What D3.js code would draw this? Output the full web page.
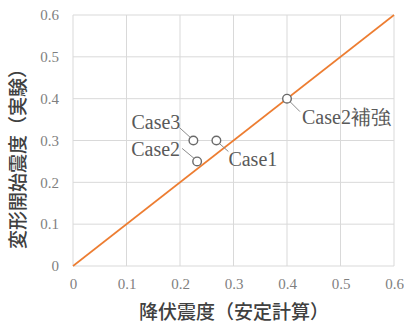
<!DOCTYPE html>
<html><head><meta charset="utf-8">
<script src="https://cdn.jsdelivr.net/npm/d3@7/dist/d3.min.js"></script>
<style>
body{margin:0;background:#fff}
svg text.serif{font-family:"Liberation Serif" !important}
svg text.gothic{font-family:"Noto Sans CJK JP" !important}
</style>
</head><body>
<svg id="c" width="404" height="329"></svg>
<script>
const xTicks = [0, 0.1, 0.2, 0.3, 0.4, 0.5, 0.6];
const yTicks = [0, 0.1, 0.2, 0.3, 0.4, 0.5, 0.6];
const caseNames = ["Case1", "Case2", "Case3", "Case2補強"];
const yieldSeismic = [0.268, 0.232, 0.225, 0.40];
const deformSeismic = [0.30, 0.25, 0.30, 0.40];
const refLine = [0, 0.6];
const xTitle = "降伏震度（安定計算）";
const yTitle = "変形開始震度（実験）";

const svg = d3.select("#c");
const x = d3.scaleLinear().domain([0, 0.6]).range([73, 394]);
const y = d3.scaleLinear().domain([0, 0.6]).range([266, 15]);

// grid
svg.append("g").selectAll("line.v").data(xTicks).join("line")
  .attr("x1", d => x(d)).attr("x2", d => x(d)).attr("y1", y(0)).attr("y2", y(0.6))
  .attr("stroke", "#d9d9d9").attr("stroke-width", 1);
svg.append("g").selectAll("line.h").data(yTicks).join("line")
  .attr("x1", x(0)).attr("x2", x(0.6)).attr("y1", d => y(d)).attr("y2", d => y(d))
  .attr("stroke", "#d9d9d9").attr("stroke-width", 1);

// axes labels
const xa = svg.append("g").attr("transform", `translate(0,${y(0)})`)
  .call(d3.axisBottom(x).tickValues(xTicks).tickSize(0).tickPadding(12).tickFormat(d => d3.format("")(d)));
xa.select(".domain").remove();
xa.selectAll("text").attr("class", "serif").attr("font-size", 15).attr("fill", "#7f7f7f");
const ya = svg.append("g").attr("transform", `translate(${x(0)},0)`)
  .call(d3.axisLeft(y).tickValues(yTicks).tickSize(0).tickPadding(14).tickFormat(d => d3.format("")(d)));
ya.select(".domain").remove();
ya.selectAll("text").attr("class", "serif").attr("font-size", 15).attr("fill", "#7f7f7f");

// reference line
svg.append("line")
  .attr("x1", x(refLine[0])).attr("y1", y(refLine[0]))
  .attr("x2", x(refLine[1])).attr("y2", y(refLine[1]))
  .attr("stroke", "#ED7D31").attr("stroke-width", 1.6);

// leader lines & labels
const lab = [
  {dx: 12, dy: 25, ax: "start"},
  {dx: -17, dy: -5, ax: "end"},
  {dx: -13, dy: -12, ax: "end"},
  {dx: 15, dy: 25, ax: "start"}
];
const leader = [
  {x1: 3, y1: 3, x2: 12, y2: 11},
  {x1: -3, y1: -3, x2: -15, y2: -13},
  {x1: -3, y1: -3, x2: -14, y2: -13},
  {x1: 3, y1: 3, x2: 13, y2: 13}
];
caseNames.forEach((n, i) => {
  const px = x(yieldSeismic[i]), py = y(deformSeismic[i]);
  svg.append("line").attr("x1", px + leader[i].x1).attr("y1", py + leader[i].y1)
    .attr("x2", px + leader[i].x2).attr("y2", py + leader[i].y2)
    .attr("stroke", "#8c8c8c").attr("stroke-width", 1);
  svg.append("text").attr("x", px + lab[i].dx).attr("y", py + lab[i].dy)
    .attr("text-anchor", lab[i].ax).attr("class", "serif")
    .attr("font-size", 20)
    .attr("fill", "#595959").text(n);
});

// markers
svg.append("g").selectAll("circle").data(caseNames).join("circle")
  .attr("cx", (d, i) => x(yieldSeismic[i])).attr("cy", (d, i) => y(deformSeismic[i]))
  .attr("r", 4.3).attr("fill", "#fff").attr("stroke", "#6a6a6a").attr("stroke-width", 1.4);

// titles
svg.append("text").attr("x", 234).attr("y", 319).attr("text-anchor", "middle").attr("class", "gothic")
  .attr("font-size", 19).attr("font-weight", 500)
  .attr("fill", "#404040").text(xTitle);
svg.append("text").attr("transform", "translate(25,154) rotate(-90)").attr("text-anchor", "middle").attr("class", "gothic")
  .attr("font-size", 19).attr("font-weight", 500)
  .attr("fill", "#404040").text(yTitle);
</script>
</body></html>
